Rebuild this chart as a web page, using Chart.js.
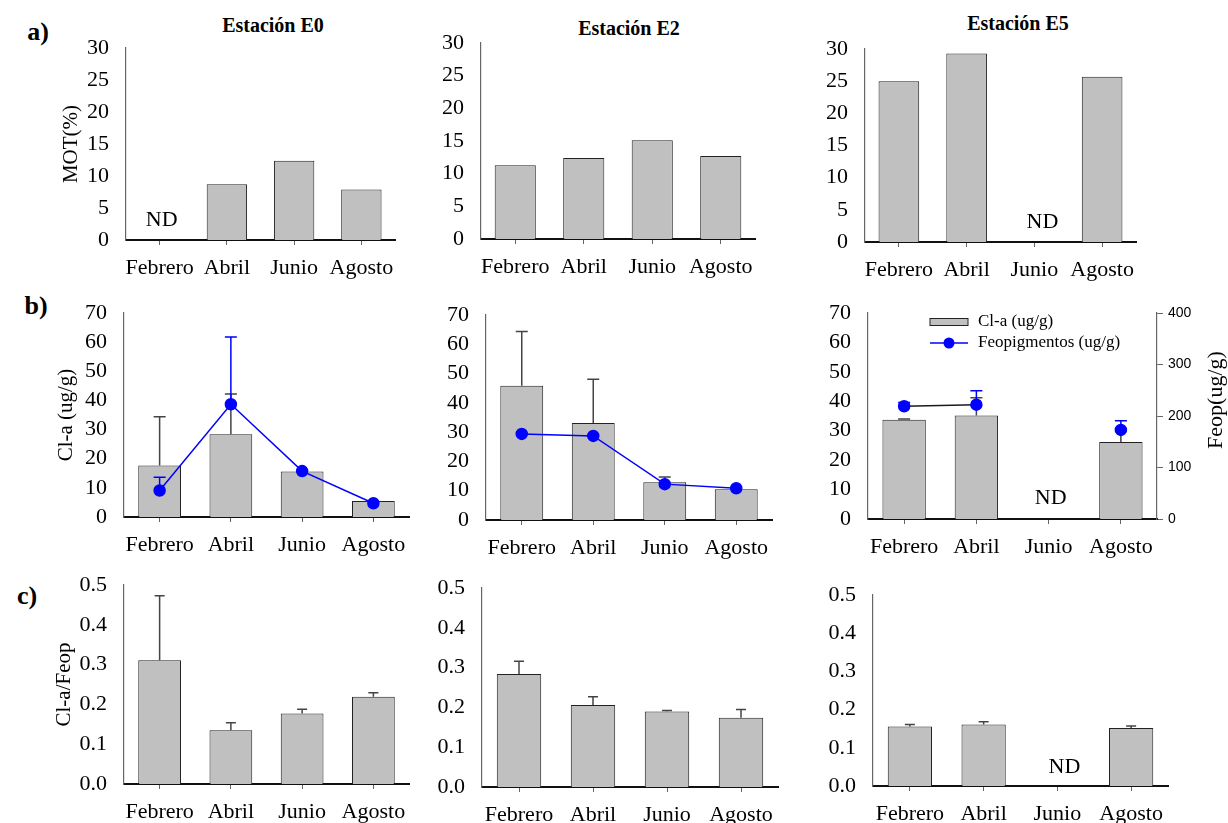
<!DOCTYPE html>
<html>
<head>
<meta charset="utf-8">
<script src="https://cdn.jsdelivr.net/npm/chart.js@4.4.1/dist/chart.umd.min.js"></script>
<style>
body { margin: 0; background: #fff; width: 1228px; height: 823px; overflow: hidden; position: relative; font-family: 'Liberation Serif', 'Times New Roman', serif; }
canvas { position: absolute; }
.t { position: absolute; font-weight: bold; font-size: 20px; transform: translate(-50%, -50%); white-space: nowrap; }
.p { position: absolute; font-weight: bold; font-size: 26px; transform: translate(-50%, -50%); }
</style>
</head>
<body>
<div class="p" style="left:38px;top:32px">a)</div>
<div class="p" style="left:36px;top:306px">b)</div>
<div class="p" style="left:27px;top:596px">c)</div>
<div class="t" style="left:273px;top:25px">Estación E0</div>
<div class="t" style="left:629px;top:28px">Estación E2</div>
<div class="t" style="left:1018px;top:23px">Estación E5</div>

<canvas id="a0"></canvas><canvas id="a2"></canvas><canvas id="a5"></canvas>
<canvas id="b0"></canvas><canvas id="b2"></canvas><canvas id="b5"></canvas>
<canvas id="c0"></canvas><canvas id="c2"></canvas><canvas id="c5"></canvas>

<script>
const meses = ['Febrero', 'Abril', 'Junio', 'Agosto'];

// a) MOT (%)
const motE0 = [null, 8.7, 12.4, 7.9];
const motE2 = [11.3, 12.4, 15.1, 12.7];
const motE5 = [25.0, 29.3, null, 25.7];

// b) Cl-a (ug/g) y Feopigmentos (ug/g)
const claE0 = [17.7, 28.4, 15.6, 5.5];
const claErrE0 = [16.7, 13.8, null, null];
const feopE0 = [52, 221, 90, 27];
const feopErrE0 = [26, 132, null, null];

const claE2 = [45.8, 33.1, 12.9, 10.5];
const claErrE2 = [18.6, 15.0, 1.8, null];
const feopE2 = [168, 164, 70, 62];
const feopErrE2 = [null, null, null, null];

const claE5 = [33.7, 35.2, null, 26.2];
const claErrE5 = [0.3, 6.0, null, 3.5];
const feopE5 = [219, 222, null, 173];
const feopErrE5 = [7, 27, null, 18];

// c) Cl-a/Feop
const ratioE0 = [0.311, 0.135, 0.177, 0.219];
const ratioErrE0 = [0.162, 0.019, 0.011, 0.010];
const ratioE2 = [0.284, 0.206, 0.190, 0.174];
const ratioErrE2 = [0.032, 0.021, 0.002, 0.021];
const ratioE5 = [0.156, 0.161, null, 0.152];
const ratioErrE5 = [0.005, 0.007, null, 0.005];

Chart.defaults.font.family = "'Liberation Serif', 'Times New Roman', serif";
Chart.defaults.color = '#000';
Chart.defaults.animation = false;
Chart.defaults.plugins.legend.display = false;
Chart.defaults.plugins.tooltip.enabled = false;

// barras de error (solo hacia arriba)
const errorBars = {
    id: 'errorBars',
    afterDatasetDraw(chart, args) {
        const ds = chart.data.datasets[args.index];
        if (!ds.errors) return;
        const meta = args.meta;
        const yScale = chart.scales[meta.yAxisID];
        const ctx = chart.ctx;
        const cap = ds.capWidth || 12;
        ctx.save();
        ctx.strokeStyle = ds.errColor || '#444';
        ctx.lineWidth = 1.5;
        ds.errors.forEach(function(e, j) {
            const v = ds.data[j];
            if (e == null || v == null) return;
            const x = meta.data[j].x;
            const y0 = yScale.getPixelForValue(v);
            const y1 = yScale.getPixelForValue(v + e);
            ctx.beginPath();
            ctx.moveTo(x, y0);
            ctx.lineTo(x, y1);
            ctx.moveTo(x - cap / 2, y1);
            ctx.lineTo(x + cap / 2, y1);
            ctx.stroke();
        });
        ctx.restore();
    }
};

// texto "ND" donde no hay dato
const ndText = {
    id: 'ndText',
    afterDraw(chart, args, opts) {
        if (!opts || opts.index == null) return;
        const ctx = chart.ctx;
        const x = chart.scales.x.getPixelForValue(opts.index) + (opts.dx || 0);
        const y = chart.scales.y.getPixelForValue(opts.value);
        ctx.save();
        ctx.font = "22px 'Liberation Serif'";
        ctx.fillStyle = '#000';
        ctx.textAlign = 'center';
        ctx.textBaseline = 'middle';
        ctx.fillText('ND', x, y);
        ctx.restore();
    }
};

Chart.register(errorBars, ndText);

function place(id, left, top, width, height) {
    const c = document.getElementById(id);
    c.width = width;
    c.height = height;
    c.style.left = left + 'px';
    c.style.top = top + 'px';
    return c;
}

function fixWidth(w) {
    return function(s) { s.width = w; s.paddingTop = 0; s.paddingBottom = 0; };
}
function fixHeight(h) {
    return function(s) { s.height = h; s.paddingLeft = 0; s.paddingRight = 0; };
}

function xAxis() {
    return {
        type: 'category',
        offset: true,
        grid: { offset: false, drawOnChartArea: false, drawTicks: true, tickLength: 5, color: '#666' },
        border: { display: true, color: '#111', width: 2 },
        ticks: { font: { size: 22 }, padding: 10, maxRotation: 0, autoSkip: false },
        afterFit: fixHeight(45)
    };
}

function yAxis(max, step, digits, title, titlePad) {
    return {
        min: 0,
        max: max,
        grid: { display: false },
        border: { display: true, color: '#666', width: 1.2 },
        ticks: { stepSize: step, autoSkip: false, font: { size: 22 }, padding: 9, callback: v => v.toFixed(digits) },
        title: { display: !!title, text: title || '', font: { size: 21 }, padding: { top: titlePad || 0, bottom: 0 } },
        afterFit: fixWidth(80)
    };
}

function barSet(label, data, errors, cap) {
    return {
        type: 'bar',
        label: label,
        data: data,
        backgroundColor: '#c0c0c0',
        borderColor: '#222',
        borderWidth: 1,
        barPercentage: 0.6,
        categoryPercentage: 1.0,
        errors: errors,
        errColor: '#444',
        capWidth: cap,
        order: 2
    };
}

function feopSet(data, errors, lineColor) {
    return {
        type: 'line',
        label: 'Feopigmentos (ug/g)',
        data: data,
        yAxisID: 'y1',
        borderColor: lineColor,
        borderWidth: 1.5,
        pointRadius: 5.5,
        pointBackgroundColor: '#0000ff',
        pointBorderColor: '#0000ff',
        tension: 0,
        spanGaps: false,
        errors: errors,
        errColor: '#0000ff',
        capWidth: 12,
        order: 1
    };
}

function makeChart(canvas, datasets, scales, nd, padRight, extraPlugins) {
    return new Chart(canvas, {
        type: 'bar',
        data: { labels: meses, datasets: datasets },
        options: {
            responsive: false,
            layout: { padding: { top: 14, right: padRight, left: 0, bottom: 0 }, autoPadding: false },
            scales: scales,
            plugins: { ndText: nd || {} }
        },
        plugins: extraPlugins || []
    });
}

// ---- fila a) ----
makeChart(place('a0', 46, 34, 359, 251),
    [barSet('MOT(%)', motE0, null, 12)],
    { x: xAxis(), y: yAxis(30, 5, 0, 'MOT(%)', 13) },
    { index: 0, value: 3.1, dx: 2 }, 10);

makeChart(place('a2', 401, 29, 364, 255),
    [barSet('MOT(%)', motE2, null, 12)],
    { x: xAxis(), y: yAxis(30, 5, 0) }, null, 10);

makeChart(place('a5', 785, 35, 361, 252),
    [barSet('MOT(%)', motE5, null, 12)],
    { x: xAxis(), y: yAxis(30, 5, 0) },
    { index: 2, value: 3.0, dx: 8 }, 10);

// ---- fila b) ----
const hiddenFeop = { position: 'right', display: false, min: 0, max: 400 };

makeChart(place('b0', 44, 299, 375, 263),
    [barSet('Cl-a (ug/g)', claE0, claErrE0, 12), feopSet(feopE0, feopErrE0, '#0000ff')],
    { x: xAxis(), y: yAxis(70, 10, 0, 'Cl-a (ug/g)', 10), y1: hiddenFeop }, null, 10);

makeChart(place('b2', 406, 301, 376, 264),
    [barSet('Cl-a (ug/g)', claE2, claErrE2, 12), feopSet(feopE2, feopErrE2, '#0000ff')],
    { x: xAxis(), y: yAxis(70, 10, 0), y1: hiddenFeop }, null, 10);

// leyenda y título del eje derecho para E5
const feopExtras = {
    id: 'feopExtras',
    afterDraw(chart) {
        const ctx = chart.ctx;
        const a = chart.chartArea;
        const ds = chart.data.datasets;
        const lx = a.left + 62;
        const ly = a.top + 9;
        ctx.save();
        ctx.fillStyle = ds[0].backgroundColor;
        ctx.strokeStyle = ds[0].borderColor;
        ctx.lineWidth = 1;
        ctx.fillRect(lx, ly - 3.5, 38, 7);
        ctx.strokeRect(lx, ly - 3.5, 38, 7);
        ctx.strokeStyle = '#0000ff';
        ctx.lineWidth = 1.5;
        ctx.beginPath();
        ctx.moveTo(lx, ly + 21);
        ctx.lineTo(lx + 38, ly + 21);
        ctx.stroke();
        ctx.fillStyle = '#0000ff';
        ctx.beginPath();
        ctx.arc(lx + 19, ly + 21, 5.5, 0, Math.PI * 2);
        ctx.fill();
        ctx.fillStyle = '#000';
        ctx.font = "17px 'Liberation Serif'";
        ctx.textBaseline = 'middle';
        ctx.fillText(ds[0].label, lx + 48, ly);
        ctx.fillText(ds[1].label, lx + 48, ly + 21);
        // título eje derecho
        const r = chart.scales.y1;
        ctx.translate(r.right - 12, (a.top + a.bottom) / 2 - 16);
        ctx.rotate(-Math.PI / 2);
        ctx.textAlign = 'center';
        ctx.font = "22px 'Liberation Serif'";
        ctx.fillText('Feop(ug/g)', 0, 0);
        ctx.restore();
    }
};

makeChart(place('b5', 788, 299, 440, 265),
    [barSet('Cl-a (ug/g)', claE5, claErrE5, 12), feopSet(feopE5, feopErrE5, '#1a1a1a')],
    {
        x: xAxis(),
        y: yAxis(70, 10, 0),
        y1: {
            position: 'right',
            min: 0,
            max: 400,
            grid: { display: true, drawOnChartArea: false, drawTicks: true, tickLength: 6, color: '#666' },
            border: { display: true, color: '#666', width: 1.2 },
            ticks: { stepSize: 100, autoSkip: false, padding: 5, font: { family: "'Liberation Sans', Arial, sans-serif", size: 14 } },
            afterFit: fixWidth(71)
        }
    },
    { index: 2, value: 7.1, dx: 2 }, 0, [feopExtras]);

// ---- fila c) ----
makeChart(place('c0', 44, 571, 375, 258),
    [barSet('Cl-a/Feop', ratioE0, ratioErrE0, 10)],
    { x: xAxis(), y: yAxis(0.5, 0.1, 1, 'Cl-a/Feop', 8) }, null, 10);

makeChart(place('c2', 402, 574, 386, 258),
    [barSet('Cl-a/Feop', ratioE2, ratioErrE2, 10)],
    { x: xAxis(), y: yAxis(0.5, 0.1, 1) }, null, 10);

makeChart(place('c5', 793, 581, 385, 250),
    [barSet('Cl-a/Feop', ratioE5, ratioErrE5, 10)],
    { x: xAxis(), y: yAxis(0.5, 0.1, 1) },
    { index: 2, value: 0.05, dx: 7 }, 10);
</script>
</body>
</html>
